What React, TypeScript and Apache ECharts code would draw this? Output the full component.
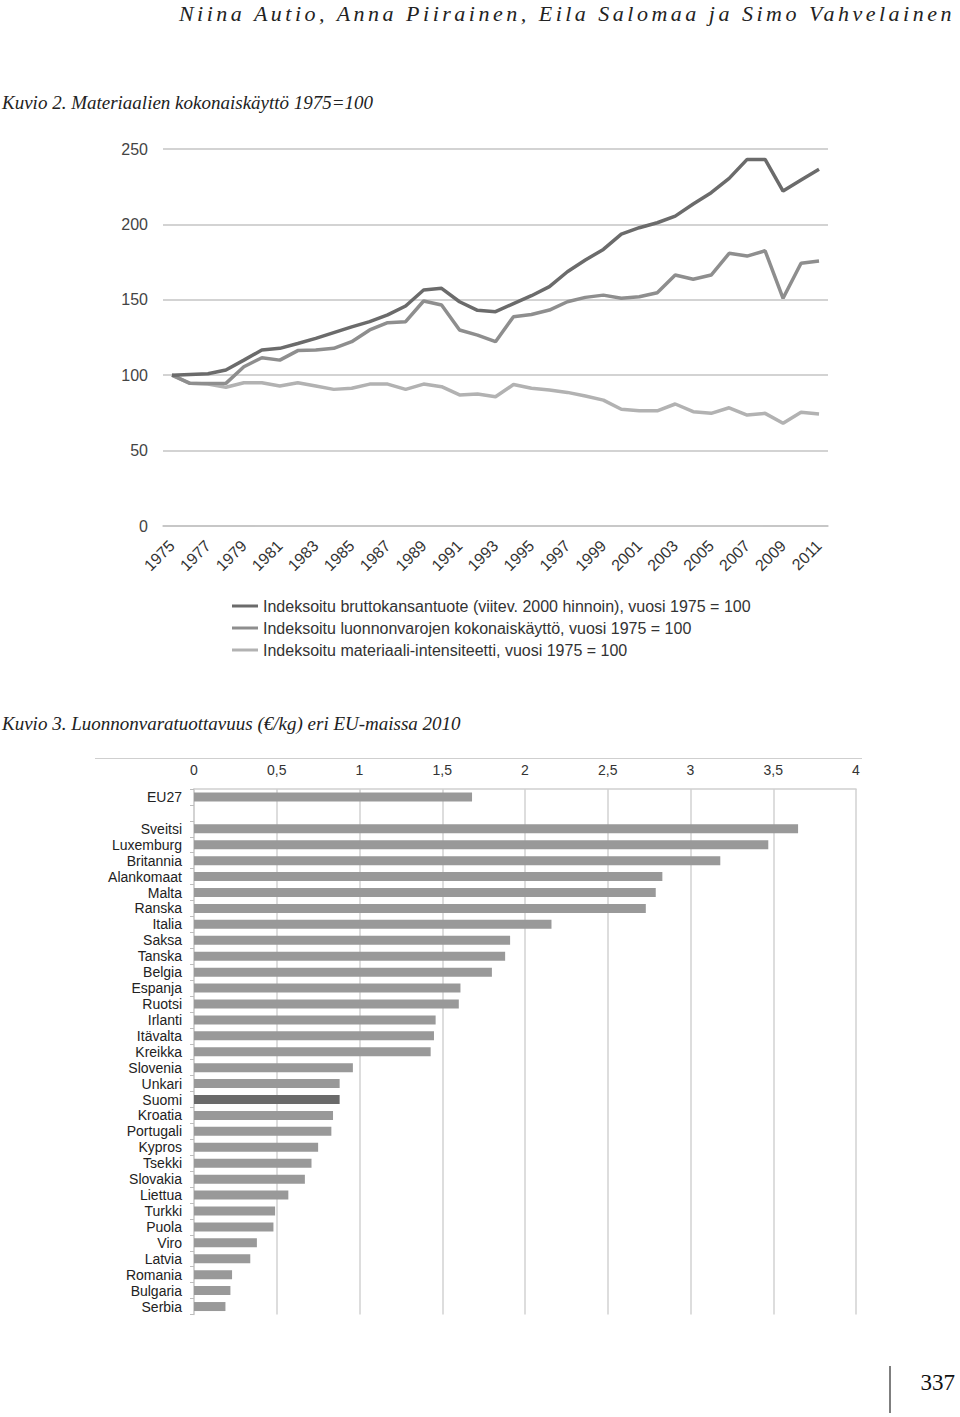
import React, { useEffect, useRef } from "react";
import * as echarts from "echarts";

const headerText = "Niina Autio, Anna Piirainen, Eila Salomaa ja Simo Vahvelainen";
const caption2 = "Kuvio 2. Materiaalien kokonaiskäyttö 1975=100";
const caption3 = "Kuvio 3. Luonnonvaratuottavuus (€/kg) eri EU-maissa 2010";
const pageNumber = "337";

const years = [
  "1975", "1976", "1977", "1978", "1979", "1980", "1981", "1982", "1983", "1984",
  "1985", "1986", "1987", "1988", "1989", "1990", "1991", "1992", "1993", "1994",
  "1995", "1996", "1997", "1998", "1999", "2000", "2001", "2002", "2003", "2004",
  "2005", "2006", "2007", "2008", "2009", "2010", "2011",
];

const seriesNames = [
  "Indeksoitu bruttokansantuote (viitev. 2000 hinnoin), vuosi 1975 = 100",
  "Indeksoitu luonnonvarojen kokonaiskäyttö, vuosi 1975 = 100",
  "Indeksoitu materiaali-intensiteetti, vuosi 1975 = 100",
];

const gdp = [
  100, 100.5, 101, 103.5, 110, 116.7, 117.8, 121, 124.4, 128.2,
  132, 135.5, 140, 145.9, 156.5, 157.6, 148.7, 143, 142.1, 147.5,
  152.7, 158.7, 168.6, 176.4, 183.4, 193.6, 197.8, 201.1, 205.5, 213.5,
  221, 230.5, 243.1, 243.1, 222.1, 229.4, 236.5,
];

const resources = [
  100, 94.6, 94.5, 94.6, 105.6, 111.6, 110, 116.3, 116.7, 117.8,
  122.2, 130, 134.8, 135.5, 149.2, 146.5, 130, 126.6, 122.2, 138.8,
  140.3, 143.2, 148.7, 151.6, 153.1, 151, 152, 154.7, 166.4, 163.6,
  166.4, 180.8, 179, 182.5, 151, 174.2, 175.7,
];

const intensity = [
  100, 94.6, 94.1, 92, 95, 95, 92.8, 95, 92.8, 90.6,
  91.3, 94.1, 94.1, 90.6, 94.1, 92.4, 86.9, 87.5, 85.7, 93.8,
  91.3, 90.2, 88.6, 86.2, 83.5, 77.4, 76.4, 76.4, 80.9, 75.8,
  74.7, 78.4, 73.6, 74.7, 68.1, 75.4, 74.3,
];

const countries = [
  "EU27", "", "Sveitsi", "Luxemburg", "Britannia", "Alankomaat", "Malta", "Ranska",
  "Italia", "Saksa", "Tanska", "Belgia", "Espanja", "Ruotsi", "Irlanti", "Itävalta",
  "Kreikka", "Slovenia", "Unkari", "Suomi", "Kroatia", "Portugali", "Kypros", "Tsekki",
  "Slovakia", "Liettua", "Turkki", "Puola", "Viro", "Latvia", "Romania", "Bulgaria", "Serbia",
];

const productivity = [
  1.68, null, 3.65, 3.47, 3.18, 2.83, 2.79, 2.73,
  2.16, 1.91, 1.88, 1.8, 1.61, 1.6, 1.46, 1.45,
  1.43, 0.96, 0.88, 0.88, 0.84, 0.83, 0.75, 0.71,
  0.67, 0.57, 0.49, 0.48, 0.38, 0.34, 0.23, 0.22, 0.19,
];

const highlighted = "Suomi";

const SANS = "'Liberation Sans', Arial, sans-serif";
const SERIF = "'Liberation Serif', 'DejaVu Serif', serif";

export default function App() {
  const ref = useRef<HTMLDivElement>(null);

  useEffect(() => {
    if (!ref.current) return;
    const chart = echarts.init(ref.current, null, { renderer: "svg" });
    const lineColors = ["#6b6b6b", "#8e8e8e", "#b2b2b2"];
    const lineData = [gdp, resources, intensity];

    const option: any = {
      animation: false,
      backgroundColor: "#ffffff",
      legend: {
        data: seriesNames,
        orient: "vertical",
        left: 232,
        top: 598,
        padding: 0,
        itemWidth: 26,
        itemHeight: 3,
        itemGap: 6,
        icon: "rect",
        textStyle: { fontSize: 16, color: "#333", fontFamily: SANS },
      },
      grid: [
        { left: 163, top: 149, width: 665, height: 377 },
        { left: 194, top: 789, width: 662, height: 525.5 },
      ],
      xAxis: [
        {
          gridIndex: 0,
          type: "category",
          data: years,
          boundaryGap: true,
          axisLine: { show: true, lineStyle: { color: "#c4c4c4", width: 1.5 } },
          axisTick: { show: false },
          axisLabel: {
            interval: 1,
            rotate: 45,
            fontSize: 16,
            color: "#333",
            fontFamily: SANS,
            margin: 17,
          },
        },
        {
          gridIndex: 1,
          type: "value",
          position: "top",
          min: 0,
          max: 4,
          interval: 0.5,
          axisLine: { show: true, lineStyle: { color: "#cfcfcf", width: 1.5 } },
          axisTick: { show: false },
          splitLine: { show: true, lineStyle: { color: "#d2d2d2", width: 1.5 } },
          axisLabel: {
            fontSize: 14,
            color: "#333",
            fontFamily: SANS,
            margin: 12,
            formatter: (v: number) => String(v).replace(".", ","),
          },
        },
      ],
      yAxis: [
        {
          gridIndex: 0,
          type: "value",
          min: 0,
          max: 250,
          interval: 50,
          axisLine: { show: false },
          axisTick: { show: false },
          splitLine: { show: true, lineStyle: { color: "#c4c4c4", width: 1.5 } },
          axisLabel: { fontSize: 16, color: "#444", fontFamily: SANS, margin: 15 },
        },
        {
          gridIndex: 1,
          type: "category",
          data: countries,
          inverse: true,
          axisLine: { show: true, lineStyle: { color: "#cfcfcf", width: 1.5 } },
          axisTick: { show: true, length: 4, lineStyle: { color: "#bdbdbd" } },
          axisLabel: { fontSize: 14, color: "#222", fontFamily: SANS, margin: 12, interval: 0 },
        },
      ],
      series: [
        ...seriesNames.map((name, i) => ({
          name,
          type: "line",
          xAxisIndex: 0,
          yAxisIndex: 0,
          data: lineData[i],
          symbol: "none",
          z: 10 - i,
          lineStyle: { color: lineColors[i], width: 3.5 },
          itemStyle: { color: lineColors[i] },
        })),
        {
          name: "Luonnonvaratuottavuus",
          type: "bar",
          xAxisIndex: 1,
          yAxisIndex: 1,
          barWidth: 9,
          data: productivity.map((v, i) => ({
            value: v,
            itemStyle: { color: countries[i] === highlighted ? "#6a6a6a" : "#999999" },
          })),
        },
      ],
      graphic: [
        {
          type: "text",
          x: 2,
          y: 102,
          style: {
            text: caption2,
            font: `italic 19px ${SERIF}`,
            fill: "#222",
            textVerticalAlign: "middle",
            verticalAlign: "middle",
          },
        },
        {
          type: "text",
          x: 2,
          y: 723,
          style: {
            text: caption3,
            font: `italic 19px ${SERIF}`,
            fill: "#222",
            textVerticalAlign: "middle",
            verticalAlign: "middle",
          },
        },
        {
          type: "line",
          shape: { x1: 95, y1: 758.5, x2: 862, y2: 758.5 },
          style: { stroke: "#cfcfcf", lineWidth: 1.2 },
        },
        {
          type: "line",
          shape: { x1: 890, y1: 1366, x2: 890, y2: 1413 },
          style: { stroke: "#555", lineWidth: 1.5 },
        },
        {
          type: "text",
          x: 955,
          y: 1382,
          style: {
            text: pageNumber,
            font: `23px ${SERIF}`,
            fill: "#111",
            textAlign: "right",
            textVerticalAlign: "middle",
            verticalAlign: "middle",
          },
        },
      ],
    };

    chart.setOption(option);
    return () => chart.dispose();
  }, []);

  return (
    <div style={{ position: "absolute", left: 0, top: 0, width: 960, height: 1417, background: "#fff" }}>
      <div ref={ref} style={{ position: "absolute", left: 0, top: 0, width: 960, height: 1417 }} />
      <div
        style={{
          position: "absolute",
          right: 5,
          top: 1,
          fontFamily: SERIF,
          fontStyle: "italic",
          fontSize: 22,
          letterSpacing: "3.5px",
          color: "#222",
          whiteSpace: "nowrap",
          lineHeight: "26px",
        }}
      >
        {headerText}
      </div>
    </div>
  );
}
